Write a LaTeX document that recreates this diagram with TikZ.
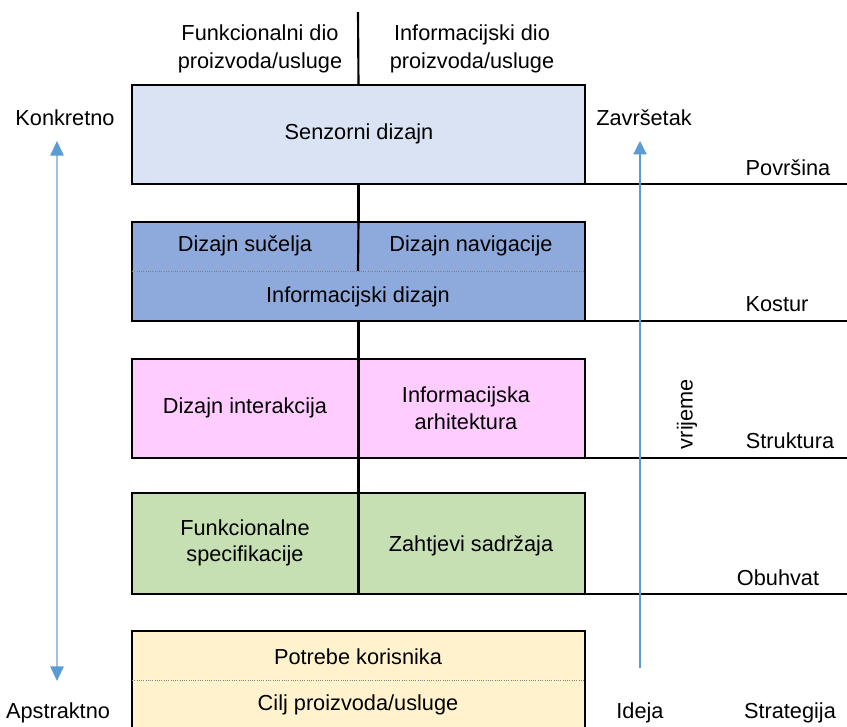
\documentclass[tikz,border=0pt]{standalone}
\usepackage{fontspec}
\setmainfont{Liberation Sans}
\usetikzlibrary{fit,arrows.meta}
\definecolor{cSenz}{HTML}{DAE3F3}
\definecolor{cKost}{HTML}{8EA9DB}
\definecolor{cStru}{HTML}{FFCCFF}
\definecolor{cObuh}{HTML}{C6E0B4}
\definecolor{cStra}{HTML}{FFF2CC}
\definecolor{cArrL}{HTML}{9DC3E6}
\definecolor{cArrH}{HTML}{5B9BD5}
\tikzset{
  x=0.75pt, y=-0.75pt,
  box/.style={draw=black, line width=2pt, inner sep=0pt, outer sep=0pt},
  lbl/.style={font=\fontsize{16.3}{20}\selectfont, align=center, inner sep=0pt},
  conn/.style={draw=black, line width=1.6pt},
  level/.style={draw=black, line width=1.5pt},
  dotsep/.style={draw=gray, line width=0.7pt, densely dotted},
}
\begin{document}
\begin{tikzpicture}
\useasboundingbox (0,0) rectangle (847,726);
% boxes
\node[box, fill=cSenz, fit={(132,85) (585,184)}] (senz) {};
\node[box, fill=cKost, fit={(132,222) (585,321)}] (kost) {};
\node[box, fill=cStru, fit={(132,359) (585,458)}] (stru) {};
\node[box, fill=cObuh, fit={(132,493) (585,594)}] (obuh) {};
\node[box, fill=cStra, fit={(132,631) (585,740)}] (stra) {};
% inner separators
\coordinate (kmid) at (358,271);
\draw[dotsep] (kost.west |- kmid) -- (kost.east |- kmid);
\draw[conn] (kost.north) -- (kmid);
\draw[conn] (stru.north) -- (stru.south);
\draw[conn] (obuh.north) -- (obuh.south);
\coordinate (smid) at (358,680);
\draw[dotsep] (stra.west |- smid) -- (stra.east |- smid);
% connectors between boxes
\coordinate (top) at (358,12);
\draw[conn] (top) -- (senz.north);
\draw[conn] (senz.south) -- (kost.north);
\draw[conn] (kost.south) -- (stru.north);
\draw[conn] (stru.south) -- (obuh.north);
% level lines
\coordinate (r1) at (847,184);
\coordinate (r2) at (847,321);
\coordinate (r3) at (847,458);
\coordinate (r4) at (847,594);
\draw[level] (senz.south east) -- (r1);
\draw[level] (kost.south east) -- (r2);
\draw[level] (stru.south east) -- (r3);
\draw[level] (obuh.south east) -- (r4);
% texts in boxes
\node[lbl] (t0) at (359,134) {Senzorni dizajn};
\node[lbl] (t1) at (245,246) {Dizajn sučelja};
\node[lbl] (t2) at (471,246) {Dizajn navigacije};
\node[lbl] (t3) at (358,297) {Informacijski dizajn};
\node[lbl] (t4) at (245,408) {Dizajn interakcija};
\node[lbl] (t5) at (466,408) {Informacijska\\arhitektura};
\node[lbl] (t6) at (245,543) {Funkcionalne\\specifikacije};
\node[lbl] (t7) at (471,546) {Zahtjevi sadržaja};
\node[lbl] (t8) at (358,657) {Potrebe korisnika};
\node[lbl] (t9) at (358,705) {Cilj proizvoda/usluge};
% top headings
\node[lbl, font=\fontsize{16.3}{21}\selectfont] (h1) at (260,49) {Funkcionalni dio\\proizvoda/usluge};
\node[lbl, font=\fontsize{16.3}{21}\selectfont] (h2) at (472,49) {Informacijski dio\\proizvoda/usluge};
% side labels
\node[lbl] (konk) at (65,118) {Konkretno};
\node[lbl] (apst) at (58,713) {Apstraktno};
\node[lbl] (zavr) at (644,118) {Završetak};
\node[lbl] (idej) at (640,713) {Ideja};
\node[lbl] (lv1) at (788,168) {Površina};
\node[lbl] (lv2) at (777,304) {Kostur};
\node[lbl] (lv3) at (790,441) {Struktura};
\node[lbl] (lv4) at (778,578) {Obuhvat};
\node[lbl] (lv5) at (790,713) {Strategija};
\node[lbl, rotate=90] (vrij) at (687,414) {vrijeme};
% arrows
\coordinate (la) at (57,141);
\coordinate (lb) at (57,681);
\draw[cArrL, line width=1.3pt, {Triangle[width=10pt,length=11pt,color=cArrH]}-{Triangle[width=10pt,length=11pt,color=cArrH]}] (la) -- (lb);
\coordinate (ra) at (640,668);
\coordinate (rb) at (640,141);
\draw[cArrH, line width=0.9pt, -{Triangle[width=10pt,length=10pt]}] (ra) -- (rb);
\end{tikzpicture}
\end{document}
